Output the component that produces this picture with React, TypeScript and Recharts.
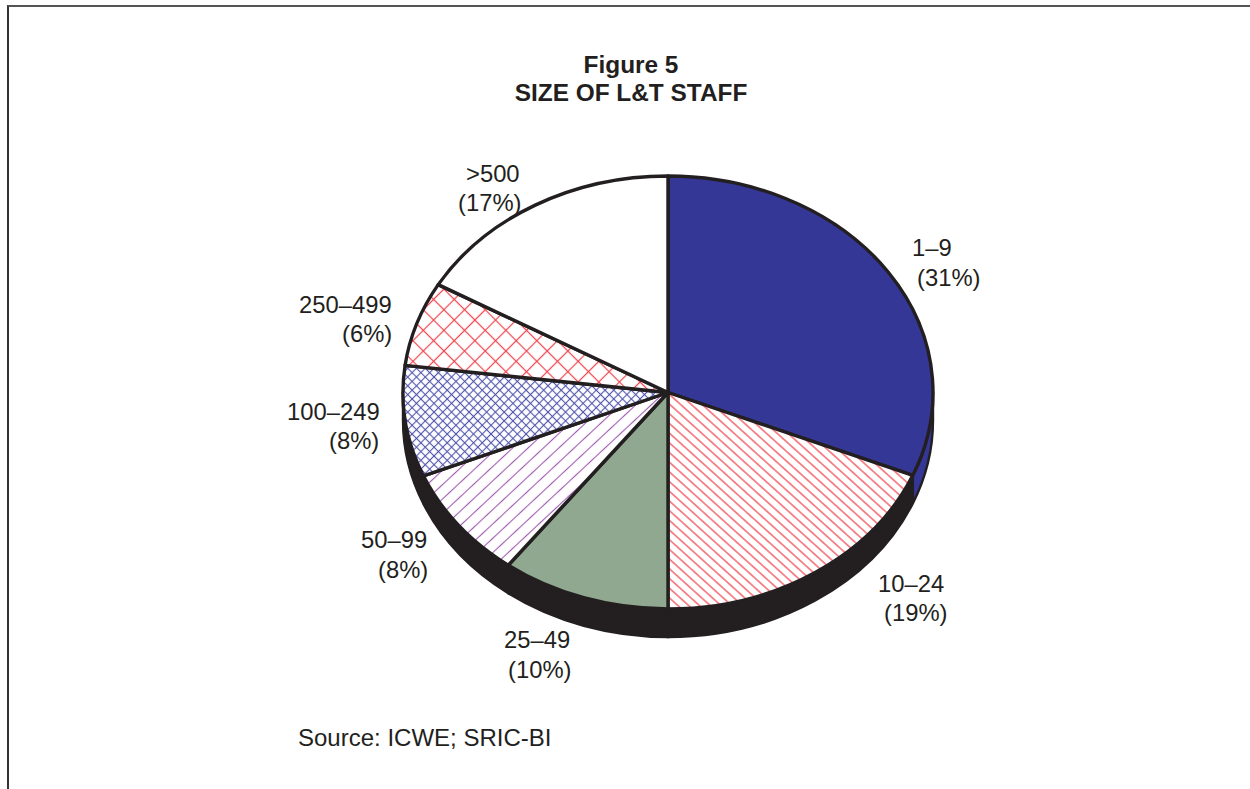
import { Cell, Pie, PieChart } from 'recharts';

const categories = ['1–9', '10–24', '25–49', '50–99', '100–249', '250–499', '>500'];
const percentLabels = ['(31%)', '(19%)', '(10%)', '(8%)', '(8%)', '(6%)', '(17%)'];
// angular shares
const shares = [31.25, 18.75, 10.3, 8.4, 8.3, 6.3, 16.7];

const data = categories.map((name, i) => ({ name, value: shares[i] }));

const INK = '#231f20';
const topFills = ['#343795', 'url(#hatchRed)', '#8fa88f', 'url(#hatchPurple)', 'url(#crossBlue)', 'url(#crossRed)', '#ffffff'];
const sideFills = ['#343795', INK, INK, INK, INK, INK, INK];

// label lines as [x, baseline] pairs, one pair per line
const labelSpots = [
  [[912, 256], [917, 286]],
  [[878, 592], [884, 621]],
  [[504, 648], [508, 678]],
  [[361, 548], [378, 578]],
  [[287, 420], [329, 449]],
  [[299, 313], [342, 342]],
  [[466, 182], [458, 211]],
];

const CX = 668;
const CY = 392.5;
const RX = 265;
const RY = 216.5;
const DEPTH = 28;

const pointAt = (angle: number, dy = 0) => {
  const rad = (-angle * Math.PI) / 180;
  return [CX + RX * Math.cos(rad), CY + dy + RY * Math.sin(rad)];
};

function TopSlice({ startAngle, endAngle, fill }: any) {
  const [x1, y1] = pointAt(startAngle);
  const [x2, y2] = pointAt(endAngle);
  const large = Math.abs(startAngle - endAngle) > 180 ? 1 : 0;
  return (
    <path
      d={`M${CX},${CY}L${x1},${y1}A${RX},${RY} 0 ${large} 1 ${x2},${y2}Z`}
      fill={fill}
      stroke={INK}
      strokeWidth={3.4}
      strokeLinejoin="round"
    />
  );
}

// wall of the disc, only the part of the slice on the lower half shows
function SideSlice({ startAngle, endAngle, fill }: any) {
  const from = Math.min(startAngle, 0);
  const to = Math.max(endAngle, -180);
  if (from <= to) return null;
  const [x1, y1] = pointAt(from);
  const [x2, y2] = pointAt(to);
  const [x3, y3] = pointAt(to, DEPTH);
  const [x4, y4] = pointAt(from, DEPTH);
  return (
    <path
      d={`M${x1},${y1}A${RX},${RY} 0 0 1 ${x2},${y2}L${x3},${y3}A${RX},${RY} 0 0 0 ${x4},${y4}Z`}
      fill={fill}
      stroke={INK}
      strokeWidth={2.4}
    />
  );
}

function Hatch({ id, size, angle, color, cross = false, width = 1 }: any) {
  return (
    <pattern id={id} patternUnits="userSpaceOnUse" width={size} height={size} patternTransform={`rotate(${angle})`}>
      <rect width={size} height={size} fill="#ffffff" />
      <line x1={0} y1={size / 2} x2={size} y2={size / 2} stroke={color} strokeWidth={width} />
      {cross && <line x1={size / 2} y1={0} x2={size / 2} y2={size} stroke={color} strokeWidth={width} />}
    </pattern>
  );
}

const renderLabel = ({ index }: any) => (
  <g key={index}>
    <text x={labelSpots[index][0][0]} y={labelSpots[index][0][1]} fontSize={23.8} fill={INK}>
      {categories[index]}
    </text>
    <text x={labelSpots[index][1][0]} y={labelSpots[index][1][1]} fontSize={23.8} fill={INK}>
      {percentLabels[index]}
    </text>
  </g>
);

export default function App() {
  return (
    <div
      style={{
        position: 'absolute',
        left: 0,
        top: 0,
        width: 1250,
        height: 789,
        overflow: 'hidden',
        background: '#ffffff',
        fontFamily: '"Liberation Sans", Arial, sans-serif',
      }}
    >
      <div
        style={{
          position: 'absolute',
          left: 7,
          top: 5,
          width: 1300,
          height: 900,
          borderLeft: '2px solid #333',
          borderTop: '2px solid #555',
        }}
      />
      <PieChart width={1250} height={789} margin={{ top: 0, right: 0, bottom: 0, left: 0 }}>
        <defs>
          <Hatch id="hatchRed" size={7.2} angle={42} color="#ef2f3c" width={1.1} />
          <Hatch id="hatchPurple" size={10.5} angle={-43} color="#a05cb0" width={1.1} />
          <Hatch id="crossBlue" size={6.2} angle={45} color="#4f54ac" cross width={1.1} />
          <Hatch id="crossRed" size={14.6} angle={45} color="#f0444e" cross width={1.2} />
        </defs>
        <Pie
          data={data}
          dataKey="value"
          cx={CX}
          cy={CY}
          outerRadius={RX}
          startAngle={90}
          endAngle={-270}
          isAnimationActive={false}
          shape={SideSlice}
        >
          {data.map((d, i) => (
            <Cell key={d.name} fill={sideFills[i]} />
          ))}
        </Pie>
        <Pie
          data={data}
          dataKey="value"
          cx={CX}
          cy={CY}
          outerRadius={RX}
          startAngle={90}
          endAngle={-270}
          isAnimationActive={false}
          shape={TopSlice}
          label={renderLabel}
          labelLine={false}
        >
          {data.map((d, i) => (
            <Cell key={d.name} fill={topFills[i]} />
          ))}
        </Pie>
        <text x={631} y={73} textAnchor="middle" fontSize={24.4} fontWeight="bold" fill={INK}>
          Figure 5
        </text>
        <text x={631} y={101} textAnchor="middle" fontSize={24.4} fontWeight="bold" fill={INK}>
          SIZE OF L&amp;T STAFF
        </text>
        <text x={298} y={746} fontSize={24} fill={INK}>
          Source: ICWE; SRIC-BI
        </text>
      </PieChart>
    </div>
  );
}
